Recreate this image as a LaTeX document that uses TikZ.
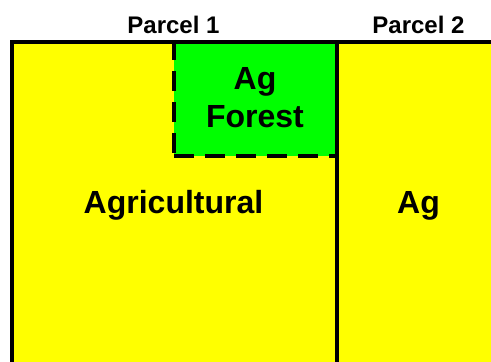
\documentclass[tikz,border=0pt]{standalone}
\usepackage{fontspec}
\setmainfont{Liberation Sans}
\definecolor{ylw}{RGB}{255,255,0}
\definecolor{grn}{RGB}{0,255,0}
\begin{document}
\begin{tikzpicture}[x=1pt,y=1pt,
  lbl/.style={font=\bfseries\fontsize{32}{37}\selectfont, inner sep=0pt, anchor=base},
  hdr/.style={font=\bfseries\fontsize{24}{28}\selectfont, inner sep=0pt, anchor=base},
  border/.style={line width=4pt},
  dashborder/.style={line width=4pt, dash pattern=on 20pt off 11pt}]
\useasboundingbox (0,0) rectangle (491,362);
\fill[white] (0,0) rectangle (491,362);
\clip (0,0) rectangle (491,362);
% fills
\fill[ylw] (12,-10) rectangle (500,320);
\fill[grn] (174,320) rectangle (337,206);
% dashed boundary of forest area
\coordinate (fTop) at (174,322);
\coordinate (fCorner) at (174,206);
\coordinate (fRight) at (335,206);
\draw[dashborder] (fTop) -- (fCorner);
\draw[dashborder] (fCorner) -- (fRight);
% solid borders
\coordinate (bl) at (12,-10);
\coordinate (tl) at (12,320);
\coordinate (tr) at (500,320);
\coordinate (dTop) at (337,320);
\coordinate (dBot) at (337,-10);
\draw[border] (bl) -- (tl) -- (tr);
\draw[border] (dTop) -- (dBot);
% labels
\node[hdr] (p1) at (173.5,328) {Parcel 1};
\node[hdr] (p2) at (418.5,328) {Parcel 2};
\node[lbl] (agf1) at (255,272) {Ag};
\node[lbl] (agf2) at (255,234) {Forest};
\node[lbl] (agr) at (173.5,148) {Agricultural};
\node[lbl] (ag2) at (418.5,148) {Ag};
\end{tikzpicture}
\end{document}
